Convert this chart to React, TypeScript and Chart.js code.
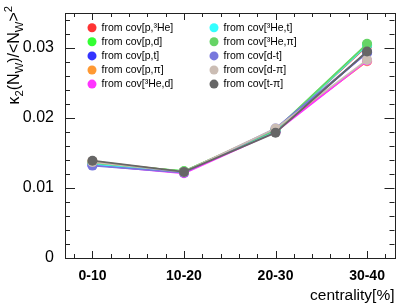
import React, { useEffect, useRef } from "react";
import { Chart, registerables } from "chart.js";

Chart.register(...registerables);

const categories = ["0-10", "10-20", "20-30", "30-40"];
const seriesLabels = [
  "from cov[p,³He]",
  "from cov[p,d]",
  "from cov[p,t]",
  "from cov[p,π]",
  "from cov[³He,d]",
  "from cov[³He,t]",
  "from cov[³He,π]",
  "from cov[d-t]",
  "from cov[d-π]",
  "from cov[t-π]",
];
const seriesColors = [
  "#ff3333",
  "#33ff33",
  "#3333ff",
  "#ff9933",
  "#ff33ff",
  "#33ffff",
  "#66d466",
  "#7777dd",
  "#cbbdb4",
  "#666666",
];
const covPHe3 = [0.0135, 0.0123, 0.0182, 0.0303];
const covPD = [0.0135, 0.0124, 0.0182, 0.0305];
const covPT = [0.0133, 0.0122, 0.0181, 0.0294];
const covPPi = [0.0138, 0.0123, 0.0183, 0.0281];
const covHe3D = [0.0133, 0.0121, 0.018, 0.0282];
const covHe3T = [0.0134, 0.0123, 0.0182, 0.0304];
const covHe3Pi = [0.0136, 0.0124, 0.0183, 0.0306];
const covDT = [0.0132, 0.0122, 0.0185, 0.0293];
const covDPi = [0.0137, 0.0123, 0.0185, 0.0283];
const covTPi = [0.0139, 0.0123, 0.0179, 0.0295];
const seriesValues = [covPHe3, covPD, covPT, covPPi, covHe3D, covHe3T, covHe3Pi, covDT, covDPi, covTPi];
const yTickValues = [0, 0.01, 0.02, 0.03];
const yTickLabels = ["0", "0.01", "0.02", "0.03"];
const xTitle = "centrality[%]";

const FONT = "'Liberation Sans', Arial, Helvetica, sans-serif";

const framePlugin = {
  id: "rootFrame",
  afterDraw(chart: any) {
    const ctx = chart.ctx as CanvasRenderingContext2D;
    const { left, right, top, bottom } = chart.chartArea;
    const xs = chart.scales.x;
    const ys = chart.scales.y;
    ctx.save();
    ctx.strokeStyle = "#222";
    ctx.lineWidth = 1;
    ctx.strokeRect(Math.round(left) + 0.5, Math.round(top) + 0.5, Math.round(right - left), Math.round(bottom - top));
    ctx.beginPath();
    // y ticks
    for (let k = 0; k <= 17; k++) {
      const v = k * 0.002;
      const py = Math.round(ys.getPixelForValue(v)) + 0.5;
      if (py < top - 0.5) continue;
      const major = k % 5 === 0;
      const len = major ? 10 : 5;
      ctx.moveTo(left, py);
      ctx.lineTo(left + len, py);
      ctx.moveTo(right, py);
      ctx.lineTo(right - len, py);
    }
    // x ticks
    for (let k = -1; k <= 16; k++) {
      const v = k * 0.2;
      const px = Math.round(xs.getPixelForValue(v)) + 0.5;
      if (px < left || px > right) continue;
      const major = k % 5 === 0;
      const len = major ? 7 : 4;
      ctx.moveTo(px, bottom);
      ctx.lineTo(px, bottom - len);
      ctx.moveTo(px, top);
      ctx.lineTo(px, top + len);
    }
    ctx.stroke();

    // legend
    ctx.font = `10.5px ${FONT}`;
    ctx.textBaseline = "middle";
    ctx.textAlign = "left";
    chart.data.datasets.forEach((ds: any, i: number) => {
      const col = Math.floor(i / 5);
      const row = i % 5;
      const cx = col === 0 ? 92 : 214;
      const cy = 27.7 + row * 14.1;
      ctx.fillStyle = ds.borderColor;
      ctx.beginPath();
      ctx.arc(cx, cy, 4.5, 0, Math.PI * 2);
      ctx.fill();
      ctx.fillStyle = "#000";
      ctx.fillText(ds.label, cx + 9.5, cy + 0.5);
    });

    // x title
    ctx.font = `15.5px ${FONT}`;
    ctx.textAlign = "right";
    ctx.textBaseline = "alphabetic";
    ctx.fillStyle = "#000";
    ctx.fillText(xTitle, right, 300);

    // y title (rotated)
    const size = 16;
    const parts = [
      { t: "κ", s: "n" },
      { t: "2", s: "sub" },
      { t: "(N", s: "n" },
      { t: "W", s: "sub" },
      { t: ")/<N", s: "n" },
      { t: "W", s: "sub" },
      { t: ">", s: "n" },
      { t: "2", s: "sup" },
    ];
    const fontFor = (s: string) => (s === "n" ? `${size}px ${FONT}` : `${size * 0.7}px ${FONT}`);
    let total = 0;
    for (const p of parts) {
      ctx.font = fontFor(p.s);
      total += ctx.measureText(p.t).width;
    }
    ctx.translate(19, 6);
    ctx.rotate(-Math.PI / 2);
    ctx.textAlign = "left";
    let x = -total;
    for (const p of parts) {
      ctx.font = fontFor(p.s);
      const dy = p.s === "sub" ? size * 0.28 : p.s === "sup" ? -size * 0.45 : 0;
      ctx.fillText(p.t, x, dy);
      x += ctx.measureText(p.t).width;
    }
    ctx.restore();
  },
};

export default function App() {
  const ref = useRef<HTMLCanvasElement | null>(null);
  useEffect(() => {
    if (!ref.current) return;
    const chart = new Chart(ref.current, {
      type: "line",
      data: {
        datasets: seriesValues.map((vals, i) => ({
          label: seriesLabels[i],
          data: vals.map((v, j) => ({ x: j, y: v })),
          borderColor: seriesColors[i],
          backgroundColor: seriesColors[i],
          pointBackgroundColor: seriesColors[i],
          pointBorderWidth: 0,
          pointRadius: 5,
          borderWidth: 1.8,
          order: seriesValues.length - i,
          fill: false,
        })),
      },
      options: {
        animation: false,
        responsive: false,
        events: [],
        layout: { padding: { top: 13, right: 12.5, left: 0, bottom: 0 } },
        plugins: { legend: { display: false }, tooltip: { enabled: false } },
        scales: {
          x: {
            type: "linear",
            min: -0.3,
            max: 3.3,
            grid: { display: false },
            border: { display: false },
            afterFit: (s: any) => {
              s.height = 48;
            },
            afterBuildTicks: (s: any) => {
              s.ticks = categories.map((_, i) => ({ value: i }));
            },
            ticks: {
              autoSkip: false,
              maxRotation: 0,
              padding: 2,
              color: "#000",
              font: { family: FONT, size: 14, weight: "bold" },
              callback: (v: any) => categories[Math.round(Number(v))] ?? "",
            },
          },
          y: {
            type: "linear",
            min: 0,
            max: 0.035,
            grid: { display: false },
            border: { display: false },
            afterFit: (s: any) => {
              s.width = 65;
            },
            afterBuildTicks: (s: any) => {
              s.ticks = yTickValues.map((v) => ({ value: v }));
            },
            ticks: {
              padding: 3,
              color: "#000",
              font: { family: FONT, size: 16 },
              callback: (v: any) => {
                const idx = yTickValues.findIndex((t) => Math.abs(t - Number(v)) < 1e-9);
                return idx >= 0 ? yTickLabels[idx] : "";
              },
            },
          },
        },
      } as any,
      plugins: [framePlugin],
    });
    return () => chart.destroy();
  }, []);
  return (
    <div style={{ position: "absolute", left: 0, top: 0, width: 407, height: 306, background: "#fff" }}>
      <canvas ref={ref} width={407} height={306} style={{ display: "block" }} />
    </div>
  );
}
